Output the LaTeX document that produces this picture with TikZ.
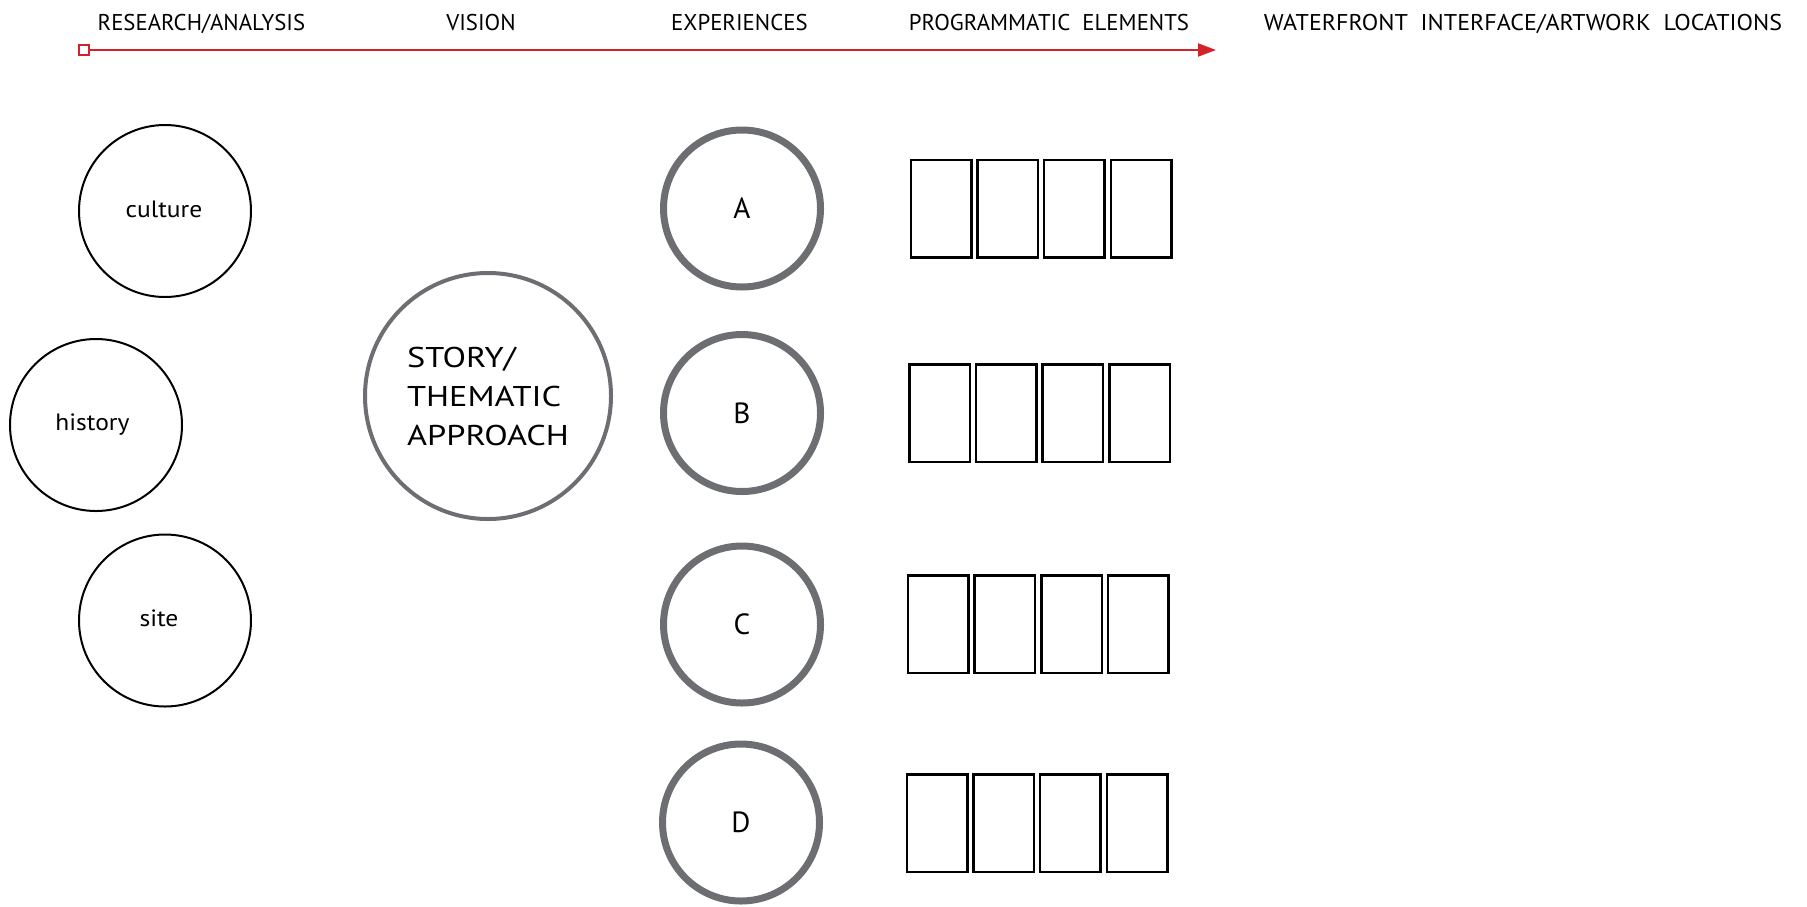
\documentclass[tikz,border=0pt]{standalone}
\usepackage{fontspec}
\setmainfont{PT Sans}
\newfontfamily\storyfont[FakeStretch=1.2]{PT Sans}
\newfontfamily\labelfont[FakeStretch=1.08]{PT Sans}
\newfontfamily\headwide[FakeStretch=1.055]{PT Sans}
\usetikzlibrary{arrows.meta}
\definecolor{ringgray}{HTML}{6D6E71}
\definecolor{timered}{HTML}{D2232A}
\tikzset{
  header/.style={anchor=base, inner sep=0, font=\fontsize{11.4}{13}\selectfont},
  topic/.style={circle, draw=black, line width=1pt, inner sep=0, minimum size=86pt},
  topiclabel/.style={anchor=base, inner sep=0, font=\labelfont\fontsize{11.8}{14}\selectfont},
  exper/.style={circle, draw=ringgray, line width=3.5pt, inner sep=0, minimum size=78.5pt,
    font=\fontsize{14.6}{17}\selectfont},
  vision/.style={circle, draw=ringgray, line width=2pt, inner sep=0, minimum size=123pt,
    align=left, font=\storyfont\fontsize{14.3}{19.5}\selectfont},
  elem/.style={rectangle, draw=black, line width=1.25pt, inner sep=0,
    minimum width=30.25pt, minimum height=48.75pt},
  startbox/.style={rectangle, draw=timered, fill=white, line width=1pt, inner sep=0, minimum size=5pt}
}
\begin{document}
\begin{tikzpicture}[x=0.5pt, y=-0.5pt]
\useasboundingbox (0,0) rectangle (1807,906);
% headers
\node[header] (h1) at (201.4,30) {RESEARCH/ANALYSIS};
\node[header] (h2) at (481,30) {VISION};
\node[header] (h3) at (739.4,30) {EXPERIENCES};
\node[header] (h4) at (1049,30) {PROGRAMMATIC\ \ ELEMENTS};
\node[header, font=\headwide\fontsize{11.4}{13}\selectfont] (h5) at (1523,30) {WATERFRONT\ \ INTERFACE/ARTWORK\ \ LOCATIONS};
% timeline
\coordinate (tip) at (1216,50);
\draw[timered, line width=1pt, -{Triangle[length=9pt,width=6.5pt]}] (89,50) -- (tip);
\node[startbox] (start) at (83.5,50) {};
% research circles
\node[topic] (culture) at (165,211) {};
\node[topic] (history) at (96,425) {};
\node[topic] (site) at (165,620.5) {};
\node[topiclabel] (lculture) at (164,217) {culture};
\node[topiclabel] (lhistory) at (92.5,430) {history};
\node[topiclabel] (lsite) at (159,626.7) {site};
% vision
\node[vision] (story) at (488,396) {STORY/\\THEMATIC\\APPROACH};
% experiences
\node[exper] (A) at (742,208.5) {A};
\node[exper] (B) at (742,413) {B};
\node[exper] (C) at (742,624.5) {C};
\node[exper] (D) at (741,822.5) {D};
% programmatic elements
\foreach \r/\x/\y in {A/941/208.5, B/939.5/413.3, C/938.2/624, D/937/823}{
  \foreach \i in {0,1,2,3}{
    \node[elem] (\r\i) at ({\x+66.7*\i},\y) {};
  }
}
\end{tikzpicture}
\end{document}
